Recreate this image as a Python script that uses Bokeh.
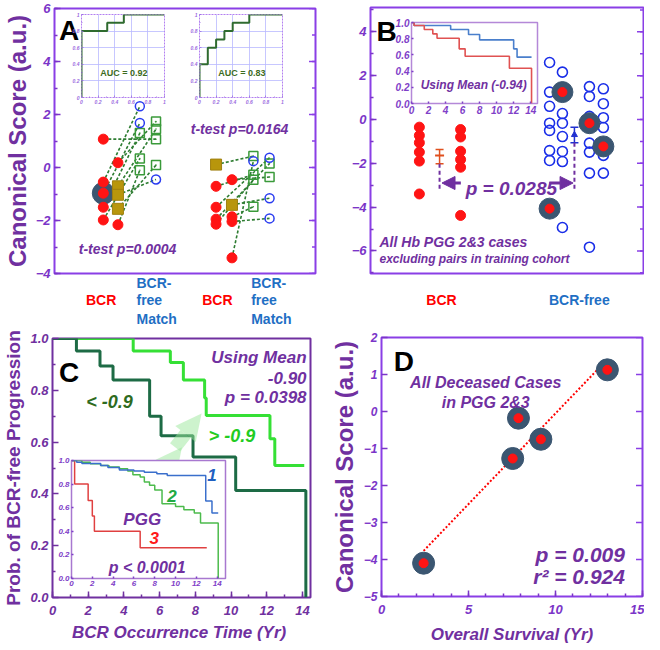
import numpy as np
from bokeh.plotting import figure
from bokeh.models import (GridBox, Column, Label, Range1d, FixedTicker, Arrow,
                          NormalHead, TeeHead, Whisker, ColumnDataSource, NumeralTickFormatter)
from bokeh.core.properties import value
from bokeh.embed import file_html
from bokeh.resources import INLINE

FONT = "Liberation Sans"
PURPLE = "#7030a0"
VIOLET = "#8a3fe6"
TICKC = "#7b35c8"
RED = "#ff1414"
BLUE_TXT = "#1f6fc4"
SLATE = "#3b5671"

# ---------------- data ----------------
# Panel A: paired cases, BCR case -> matched BCR-free case
a_bcr_x = [1.87, 1.87, 2.43, 1.87, 2.43, 1.87, 2.43, 1.87, 2.43, 2.43,
           6.19, 6.80, 6.19, 6.19, 6.80, 6.19, 6.19, 6.80, 6.80, 6.80]
a_bcr_y = [1.07, -0.55, 0.18, -0.97, -0.71, -1.50, -1.03, -1.98, -1.56, -2.16,
           0.11, -0.46, -0.71, -1.50, -1.41, -1.95, -2.14, -1.86, -2.04, -3.41]
a_bcr_kind = ["r", "r", "r", "r", "o", "r", "o", "r", "o", "r",
              "o", "r", "r", "r", "o", "r", "r", "r", "r", "r"]
a_match_x = [3.89, 3.27, 3.89, 3.27, 3.89, 3.27, 3.89, 3.27, 3.89, 3.27,
             7.62, 8.24, 7.62, 8.24, 8.24, 8.24, 7.62, 7.62, 8.24, 7.62]
a_match_y = [1.07, 2.31, 1.74, 1.68, 1.45, 1.30, -0.45, 0.34, 0.09, -0.10,
             0.43, -0.36, -0.27, 0.37, -1.16, 0.15, -0.46, -1.48, -1.92, 0.24]
a_match_kind = ["s", "c", "s", "c", "s", "s", "c", "s", "s", "s",
                "s", "s", "s", "c", "c", "s", "s", "s", "c", "c"]
a_hl_x = [1.87]
a_hl_y = [-0.97]
a_yticks = [-4, -2, 0, 2, 4, 6]
a_yminor = list(range(-4, 7))
a_cat_x = [2.00, 6.34, 3.32, 3.32, 3.32, 7.60, 7.60, 7.60]
a_cat_y = [-5.02, -5.02, -4.38, -5.02, -5.70, -4.38, -5.02, -5.70]
a_cat_text = ["BCR", "BCR", "BCR-", "free", "Match", "BCR-", "free", "Match"]
a_cat_red = [True, True, False, False, False, False, False, False]

# ROC insets of panel A
roc1_fpr = [0, 0, 0.31, 0.31, 0.51, 0.51, 1.0]
roc1_tpr = [0, 0.8, 0.8, 0.9, 0.9, 1.0, 1.0]
roc2_fpr = [0, 0, 0.1, 0.1, 0.2, 0.2, 0.3, 0.3, 0.4, 0.4, 0.6, 0.6, 1.0]
roc2_tpr = [0, 0.4, 0.4, 0.6, 0.6, 0.7, 0.7, 0.8, 0.8, 0.9, 0.9, 1.0, 1.0]
roc_ticks = [0, 0.2, 0.4, 0.6, 0.8, 1.0]

# Panel B
b_red_x = [1.79] * 6 + [3.30] * 6
b_red_y = [-0.35, -0.73, -1.06, -1.49, -1.90, -3.40,
           -0.46, -0.80, -1.45, -1.83, -2.18, -4.38]
b_blue_x = [6.56] * 7 + [7.03] * 7 + [8.02] * 7 + [8.53] * 6
b_blue_y = [2.60, 1.25, 0.60, -0.17, -0.50, -1.42, -1.87,
            2.16, 0.27, -0.17, -0.78, -1.46, -1.92, -4.93,
            1.50, 1.05, 0.14, -1.08, -1.49, -2.45, -5.83,
            1.40, 0.72, 0.08, -0.37, -1.64, -2.45]
b_hl_x = [6.56, 7.03, 8.02, 8.53]
b_hl_y = [-4.07, 1.25, -0.17, -1.23]
b_mean_x = [2.53, 7.47]
b_mean_y = [-1.64, -0.70]
b_mean_lo = [-2.02, -1.06]
b_mean_hi = [-1.37, -0.35]
b_dash_end = [-3.30, -3.25]
b_yticks = [-6, -4, -2, 0, 2, 4]
b_yminor = list(range(-7, 6))
b_cat_x = [2.60, 7.65]
b_cat_text = ["BCR", "BCR-free"]
b_cat_color = ["#ff0000", BLUE_TXT]
# Panel B inset (Kaplan-Meier)
bi_blue_t = [0, 0.3, 4.6, 6.7, 8.0, 12.0, 12.4, 14.1]
bi_blue_s = [1.0, 0.963, 0.914, 0.852, 0.786, 0.675, 0.572, 0.572]
bi_red_t = [0, 0.3, 1.5, 2.5, 3.0, 5.6, 6.3, 11.5, 14.1]
bi_red_s = [1.0, 0.963, 0.914, 0.86, 0.806, 0.675, 0.584, 0.436, 0.0]

# Panel C (Kaplan-Meier)
c_low_t = [0, 1.34, 2.66, 3.39, 5.44, 6.08, 7.87, 10.26, 14.19]
c_low_s = [1.0, 0.952, 0.894, 0.84, 0.70, 0.625, 0.542, 0.413, 0.0]
c_high_t = [0, 4.52, 6.6, 7.33, 8.52, 8.61, 12.18, 12.45, 14.1]
c_high_s = [1.0, 0.952, 0.907, 0.84, 0.77, 0.703, 0.613, 0.51, 0.51]
# Panel C inset (PGG 1, 2, 3)
ci_1_t = [0, 0.5, 1.0, 2.8, 3.5, 4.6, 6.0, 7.0, 8.2, 9.2, 12.9, 13.5, 14.1]
ci_1_s = [1.0, 0.985, 0.975, 0.958, 0.94, 0.92, 0.91, 0.9, 0.887, 0.873, 0.656, 0.555, 0.555]
ci_2_t = [0, 1.0, 1.8, 2.8, 3.6, 4.6, 5.4, 5.9, 6.6, 7.0, 7.5, 8.0, 8.7, 10.0, 10.8, 11.8, 12.4, 14.1]
ci_2_s = [1.0, 0.986, 0.972, 0.958, 0.944, 0.93, 0.91, 0.88, 0.86, 0.817, 0.79, 0.75, 0.634,
          0.61, 0.583, 0.555, 0.47, 0.0]
ci_3_t = [0, 0.3, 1.6, 2.0, 2.2, 6.6, 13.0]
ci_3_s = [1.0, 0.80, 0.66, 0.53, 0.40, 0.26, 0.26]

# Panel D
d_x = [2.42, 7.54, 7.87, 9.16, 12.98]
d_y = [-4.10, -1.27, -0.18, -0.75, 1.126]
d_yticks = list(range(-5, 3))


# ---------------- helpers ----------------
def make_fig(w, h, xr, yr, left, right, top, bottom, xaxis=True, yaxis=True,
             outline=VIOLET, ow=2, inset=False, clear_bg=False):
    p = figure(width=w, height=h,
               x_range=xr if isinstance(xr, Range1d) else Range1d(*xr),
               y_range=Range1d(*yr),
               output_backend="svg", toolbar_location=None,
               x_axis_location="below" if xaxis else None,
               y_axis_location="left" if yaxis else None,
               min_border_left=left, min_border_right=right,
               min_border_top=top, min_border_bottom=bottom, align="start",
               width_policy="fixed", height_policy="fixed")
    try:
        p.frame_align = False  # keep each panel's own borders
    except Exception:
        pass
    p.grid.visible = False
    p.outline_line_color = outline
    p.outline_line_width = ow
    if clear_bg:
        p.background_fill_color = None
        p.background_fill_alpha = 0
    else:
        p.background_fill_color = "white"
    if inset or clear_bg:
        p.border_fill_color = None
        p.border_fill_alpha = 0
    else:
        p.border_fill_color = "white"
    return p


def style_axis(ax, ticks, minor, size, color=TICKC, tin=6, minin=3, standoff=4, lw=1.5):
    ax.ticker = FixedTicker(ticks=ticks, minor_ticks=minor)
    ax.major_label_text_font = FONT
    ax.major_label_text_font_style = "bold italic"
    ax.major_label_text_font_size = f"{size}px"
    ax.major_label_text_color = color
    ax.major_tick_in = tin
    ax.major_tick_out = 0
    ax.minor_tick_in = minin
    ax.minor_tick_out = 0
    ax.major_tick_line_color = color
    ax.minor_tick_line_color = color
    ax.major_tick_line_width = lw
    ax.minor_tick_line_width = lw
    ax.axis_line_color = None
    ax.major_label_standoff = standoff


def axis_title(ax, text, size, italic=False, standoff=4):
    ax.axis_label = text
    ax.axis_label_text_font = FONT
    ax.axis_label_text_font_size = f"{size}px"
    ax.axis_label_text_font_style = "bold italic" if italic else "bold"
    ax.axis_label_text_color = PURPLE
    ax.axis_label_standoff = standoff


def right_ticks(p, ticks, minor, color=VIOLET):
    # inward tick marks on the right frame edge (dash markers centred on the edge)
    xe = p.x_range.end
    p.scatter([xe] * len(minor), minor, marker="dash", size=7, line_color=color, line_width=1.5)
    p.scatter([xe] * len(ticks), ticks, marker="dash", size=13, line_color=color, line_width=1.5)


def txt(p, x, y, text, size, color=PURPLE, style="bold italic", align="center"):
    p.add_layout(Label(x=x, y=y, text=text, text_font=FONT, text_font_size=f"{size}px",
                       text_font_style=style, text_color=color, text_align=align,
                       text_baseline="middle"))


def boxed(p):
    return Column(children=[p], align="start")


# ---------------- Panel A ----------------
pA = make_fig(320, 285, (0, 10), (-4, 6), 47, 5, 8, 12, xaxis=False)
style_axis(pA.yaxis[0], a_yticks, a_yminor, 13)
axis_title(pA.yaxis[0], "Canonical Score (a.u.)", 24, standoff=2)
right_ticks(pA, a_yticks, a_yminor)

pA.segment(x0=a_bcr_x, y0=a_bcr_y, x1=a_match_x, y1=a_match_y,
           line_color="#2e7d32", line_dash="3 2", line_width=1.6)
rx = [x for x, k in zip(a_bcr_x, a_bcr_kind) if k == "r"]
ry = [y for y, k in zip(a_bcr_y, a_bcr_kind) if k == "r"]
ox = [x for x, k in zip(a_bcr_x, a_bcr_kind) if k == "o"]
oy = [y for y, k in zip(a_bcr_y, a_bcr_kind) if k == "o"]
sx = [x for x, k in zip(a_match_x, a_match_kind) if k == "s"]
sy = [y for y, k in zip(a_match_y, a_match_kind) if k == "s"]
cx = [x for x, k in zip(a_match_x, a_match_kind) if k == "c"]
cy = [y for y, k in zip(a_match_y, a_match_kind) if k == "c"]
pA.scatter(a_hl_x, a_hl_y, marker="circle", size=22, fill_color=SLATE, line_color=SLATE)
pA.scatter(rx, ry, marker="circle", size=10, fill_color=RED, line_color=RED)
pA.scatter(ox, oy, marker="square", size=11, fill_color="#b8960c", line_color="#a08010")
pA.scatter(sx, sy, marker="square", size=9, fill_alpha=0.0, line_color="#3a9a3a", line_width=1.5)
pA.scatter(sx, sy, marker="dot", size=6, line_color="#3a9a3a", fill_color="#3a9a3a")
pA.scatter(cx, cy, marker="circle", size=9, fill_alpha=0.0, line_color="#2a3cf0", line_width=1.5)
txt(pA, 0.56, 5.17, "A", 28, color="black", style="bold")
txt(pA, 7.09, 1.47, "t-test p=0.0164", 14)
txt(pA, 2.80, -3.06, "t-test p=0.0004", 14)

# strip under panel A with the category names
sA = make_fig(320, 55, pA.x_range, (-6.15, -4.08), 47, 5, 0, 0, xaxis=False, yaxis=False,
              outline=None, clear_bg=True)
sA.text(x=[x for x, r in zip(a_cat_x, a_cat_red) if r],
        y=[y for y, r in zip(a_cat_y, a_cat_red) if r],
        text=[t for t, r in zip(a_cat_text, a_cat_red) if r],
        text_font=value(FONT), text_font_size="14px", text_font_style="bold",
        text_color="#ff0000", text_align="center", text_baseline="middle")
sA.text(x=[x for x, r in zip(a_cat_x, a_cat_red) if not r],
        y=[y for y, r in zip(a_cat_y, a_cat_red) if not r],
        text=[t for t, r in zip(a_cat_text, a_cat_red) if not r],
        text_font=value(FONT), text_font_size="14px", text_font_style="bold",
        text_color=BLUE_TXT, text_align="left", text_baseline="middle")


def roc_inset(fpr, tpr, auc):
    p = make_fig(99, 96, (0, 1), (0, 1), 13, 3, 4, 9, outline="#b27ff0", ow=1, inset=True)
    p.outline_line_dash = "2 1"
    for ax in (p.xaxis[0], p.yaxis[0]):
        style_axis(ax, roc_ticks, [0.1, 0.3, 0.5, 0.7, 0.9], 5, color="#9a6ae0",
                   tin=2, minin=1, standoff=2, lw=0.8)
        ax.major_label_overrides = {0: "0", 1: "1"}
    p.grid.visible = True
    p.grid.grid_line_color = "#b9b9ff"
    p.grid.grid_line_width = 0.8
    p.line(fpr, tpr, line_color="#2f6b2f", line_width=2)
    txt(p, 0.51, 0.30, auc, 9, color="#3d6b1e", style="bold")
    return p


roc1 = roc_inset(roc1_fpr, roc1_tpr, "AUC = 0.92")
roc2 = roc_inset(roc2_fpr, roc2_tpr, "AUC = 0.83")

# ---------------- Panel B ----------------
pB = make_fig(317, 285, (0, 10), (-7.03, 5.11), 43, 1, 7, 12, xaxis=False)
style_axis(pB.yaxis[0], b_yticks, b_yminor, 13)
right_ticks(pB, b_yticks, b_yminor)
pB.scatter(b_red_x, b_red_y, marker="circle", size=10, fill_color=RED, line_color=RED)
pB.scatter(b_blue_x, b_blue_y, marker="circle", size=10, fill_alpha=0.0,
           line_color="#1a2ee8", line_width=1.6)
pB.scatter(b_hl_x, b_hl_y, marker="circle", size=21, fill_color=SLATE, line_color=SLATE)
pB.scatter(b_hl_x, b_hl_y, marker="circle", size=9, fill_color=RED, line_color=RED)
pB.segment(x0=b_mean_x, y0=b_mean_lo, x1=b_mean_x, y1=b_dash_end,
           line_color=PURPLE, line_dash="4 3", line_width=2)
src_r = ColumnDataSource(dict(x=b_mean_x[:1], lo=b_mean_lo[:1], hi=b_mean_hi[:1]))
src_b = ColumnDataSource(dict(x=b_mean_x[1:], lo=b_mean_lo[1:], hi=b_mean_hi[1:]))
pB.add_layout(Whisker(source=src_r, base="x", lower="lo", upper="hi", dimension="height",
                      line_color="#e0501e", line_width=1.5,
                      upper_head=TeeHead(size=8, line_color="#e0501e", line_width=1.5),
                      lower_head=TeeHead(size=8, line_color="#e0501e", line_width=1.5)))
pB.add_layout(Whisker(source=src_b, base="x", lower="lo", upper="hi", dimension="height",
                      line_color="#2030d0", line_width=1.5,
                      upper_head=TeeHead(size=8, line_color="#2030d0", line_width=1.5),
                      lower_head=TeeHead(size=8, line_color="#2030d0", line_width=1.5)))
pB.scatter(b_mean_x[:1], b_mean_y[:1], marker="dash", size=9, line_color="#e0501e", line_width=2)
pB.scatter(b_mean_x[1:], b_mean_y[1:], marker="triangle", size=6, fill_color="#2030d0",
           line_color="#2030d0")
pB.add_layout(Arrow(end=NormalHead(size=13, fill_color=PURPLE, line_color=PURPLE),
                    x_start=3.31, y_start=-2.9, x_end=2.62, y_end=-2.9,
                    line_color=PURPLE, line_width=3))
pB.add_layout(Arrow(end=NormalHead(size=13, fill_color=PURPLE, line_color=PURPLE),
                    x_start=6.55, y_start=-2.9, x_end=7.42, y_end=-2.9,
                    line_color=PURPLE, line_width=3))
txt(pB, 5.16, -3.15, "p = 0.0285", 19)
txt(pB, 0.59, 4.02, "B", 28, color="black", style="bold")
txt(pB, 0.33, -5.60, "All Hb PGG 2&3 cases", 14, align="left")
txt(pB, 0.33, -6.35, "excluding pairs in training cohort", 12, align="left")

sB = make_fig(317, 55, pB.x_range, (-9.63, -7.12), 43, 1, 0, 0, xaxis=False, yaxis=False,
              outline=None, clear_bg=True)
sB.text(x=b_cat_x, y=[-8.22] * len(b_cat_x), text=b_cat_text, text_color=b_cat_color,
        text_font=value(FONT), text_font_size="14px", text_font_style="bold",
        text_align="center", text_baseline="middle")

insB = make_fig(149, 99, (0, 14.8), (0, 1), 20, 3, 4, 14, outline="#b488d8", ow=1.5, inset=True)
style_axis(insB.xaxis[0], list(range(0, 15, 2)), [], 10, color="#8040c8", tin=2, minin=0, standoff=2)
style_axis(insB.yaxis[0], [0, 0.2, 0.4, 0.6, 0.8, 1.0], [], 10, color="#8040c8", tin=2, minin=0,
           standoff=2)
insB.yaxis[0].formatter = NumeralTickFormatter(format="0.0")
insB.step(bi_blue_t, bi_blue_s, mode="after", line_color="#4a7fcc", line_width=1.6)
insB.step(bi_red_t, bi_red_s, mode="after", line_color="#e05252", line_width=1.6)
txt(insB, 7.3, 0.23, "Using Mean (-0.94)", 12)

# ---------------- Panel C ----------------
pC = make_fig(320, 315, (0, 14.45), (0, 1), 47, 10, 8, 48, outline=PURPLE)
style_axis(pC.xaxis[0], list(range(0, 15, 2)), list(range(0, 15)), 13, color=PURPLE, standoff=8)
style_axis(pC.yaxis[0], [0, 0.2, 0.4, 0.6, 0.8, 1.0], [0.1, 0.3, 0.5, 0.7, 0.9], 13, color=PURPLE)
pC.yaxis[0].formatter = NumeralTickFormatter(format="0.0")
axis_title(pC.yaxis[0], "Prob. of BCR-free Progression", 19, standoff=3)
axis_title(pC.xaxis[0], "BCR  Occurrence Time (Yr)", 17, italic=True, standoff=5)
for xs, ys, xe, ye in [(6.0, 0.47, 7.25, 0.58), (6.87, 0.58, 8.35, 0.71)]:
    pC.add_layout(Arrow(end=NormalHead(size=26, fill_color="#9be89b", fill_alpha=0.5,
                                       line_color=None),
                        x_start=xs, y_start=ys, x_end=xe, y_end=ye,
                        line_color="#9be89b", line_alpha=0.5, line_width=13))
pC.step(c_high_t, c_high_s, mode="after", line_color="#35e035", line_width=3)
pC.step(c_low_t, c_low_s, mode="after", line_color="#1d6b45", line_width=3)
txt(pC, 0.93, 0.87, "C", 28, color="black", style="bold")
txt(pC, 14.23, 0.927, "Using Mean", 17, align="right")
txt(pC, 14.23, 0.846, "-0.90", 17, align="right")
txt(pC, 14.23, 0.772, "p = 0.0398", 17, align="right")
txt(pC, 3.19, 0.753, "< -0.9", 18, color="#2e6b1e")
txt(pC, 10.05, 0.625, "> -0.9", 18, color="#22cc22")

insC = make_fig(175, 136, (0, 14.8), (0, 1), 18, 3, 4, 14, outline="#a878d0", ow=1.5, inset=True)
style_axis(insC.xaxis[0], list(range(0, 15, 2)), [], 8, color="#8040c8", tin=2, minin=0, standoff=2)
style_axis(insC.yaxis[0], [0, 0.2, 0.4, 0.6, 0.8, 1.0], [], 8, color="#8040c8", tin=2, minin=0,
           standoff=2)
insC.yaxis[0].formatter = NumeralTickFormatter(format="0.0")
insC.step(ci_3_t, ci_3_s, mode="after", line_color="#e04040", line_width=1.5)
insC.step(ci_2_t, ci_2_s, mode="after", line_color="#4cbb4c", line_width=1.5)
insC.step(ci_1_t, ci_1_s, mode="after", line_color="#3a6fcc", line_width=1.5)
txt(insC, 13.5, 0.88, "1", 17, color="#1f5fc0")
txt(insC, 9.66, 0.70, "2", 17, color="#22aa44")
txt(insC, 6.8, 0.50, "PGG", 17)
txt(insC, 7.94, 0.34, "3", 17, color="#ff1a1a")
txt(insC, 7.27, 0.096, "p < 0.0001", 16)

# ---------------- Panel D ----------------
pD = make_fig(317, 316, (0, 15), (-5, 2), 47, 2, 7, 49)
style_axis(pD.xaxis[0], [0, 5, 10, 15], list(range(0, 16)), 13, standoff=8)
style_axis(pD.yaxis[0], d_yticks, [], 12)
right_ticks(pD, d_yticks, [])
axis_title(pD.yaxis[0], "Canonical Score (a.u.)", 24, standoff=3)
axis_title(pD.xaxis[0], "Overall Survival (Yr)", 17, italic=True, standoff=8)
slope, intercept = np.polyfit(d_x, d_y, 1)
fit_x = [min(d_x), max(d_x)]
fit_y = [slope * v + intercept for v in fit_x]
pD.line(fit_x, fit_y, line_color="#ff0000", line_dash="2 2", line_width=2)
pD.scatter(d_x, d_y, marker="circle", size=22, fill_color=SLATE, line_color=SLATE)
pD.scatter(d_x, d_y, marker="circle", size=9, fill_color=RED, line_color=RED)
txt(pD, 1.29, 1.35, "D", 28, color="black", style="bold")
txt(pD, 5.99, 0.79, "All Deceased Cases", 16)
txt(pD, 5.99, 0.25, "in PGG 2&3", 16)
txt(pD, 13.99, -3.87, "p = 0.009", 21, align="right")
txt(pD, 13.99, -4.46, "r\u00b2 = 0.924", 21, align="right")

# ---------------- layout ----------------
# row edges: 0,10,18,275,330,456,646 ; column edges: 0,53,68,186,327,391,644
grid = GridBox(children=[(boxed(pA), 0, 0, 4, 4), (boxed(sA), 3, 0, 1, 4),
                         (boxed(pB), 0, 4, 4, 2), (boxed(sB), 3, 4, 1, 2),
                         (boxed(pC), 4, 0, 2, 4), (boxed(pD), 4, 4, 2, 2),
                         (boxed(roc1), 1, 2, 2, 1), (boxed(roc2), 1, 3, 2, 1),
                         (boxed(insB), 2, 5, 1, 1), (boxed(insC), 5, 1, 1, 3)],
               rows=["10px", "8px", "257px", "55px", "126px", "190px"],
               cols=["53px", "15px", "118px", "141px", "64px", "253px"])

open("out.html", "w").write(file_html(grid, INLINE))
